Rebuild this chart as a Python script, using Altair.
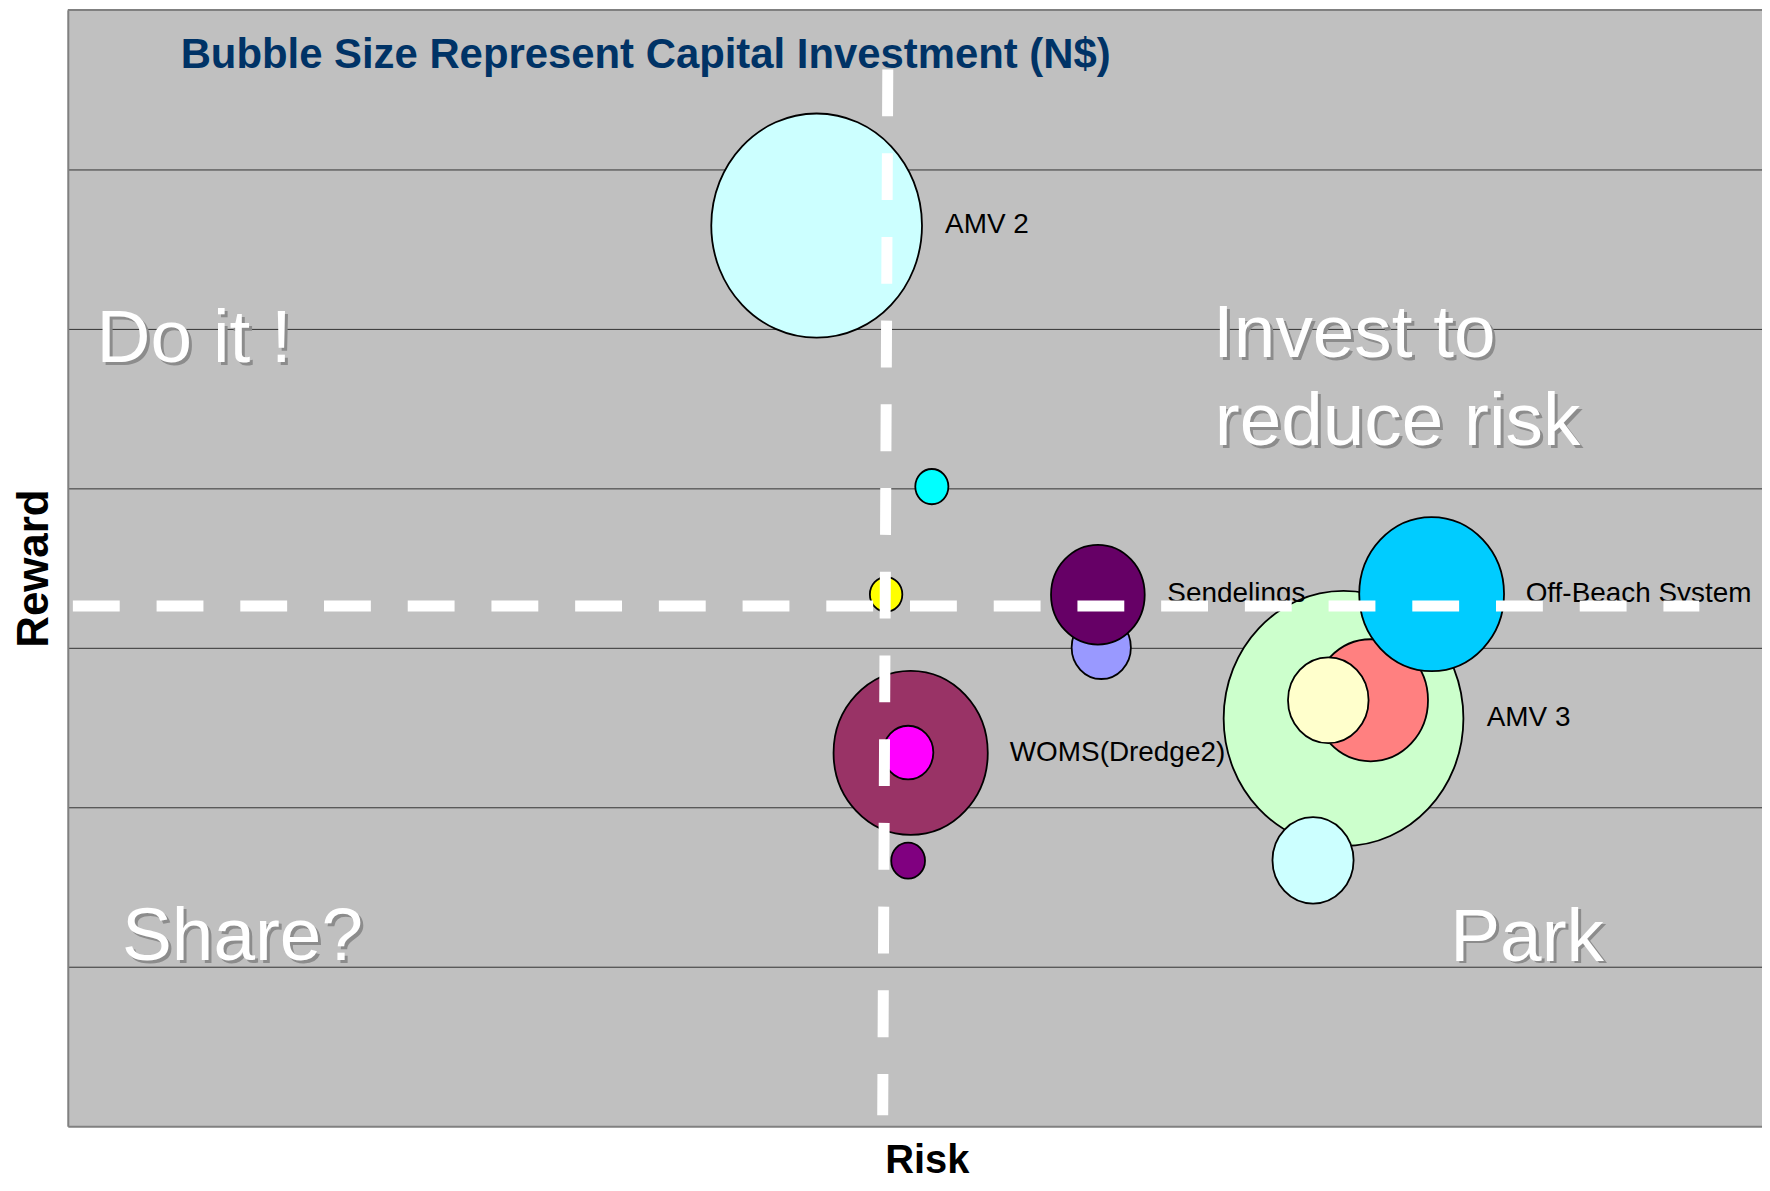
import altair as alt
import pandas as pd

# ---- bubble data (risk / reward / capital investment) ----
bubble_ids = ["AMV 2", "P-cyan", "P-yellow", "P-periwinkle", "Sendelings",
              "WOMS(Dredge2)", "P-magenta", "P-purple", "AMV 3", "P-salmon",
              "P-lightyellow", "P-lightcyan", "Off-Beach System"]
risk = [4.42, 5.10, 4.83, 6.10, 6.08, 4.975, 4.96, 4.96, 7.53, 7.69, 7.44, 7.35, 8.05]
reward = [5.648, 4.011, 3.335, 3.002, 3.333, 2.341, 2.343, 1.665, 2.557, 2.671, 2.671, 1.667, 3.337]
investment = [506, 12.5, 12, 40, 100, 271, 29, 13, 655, 150, 74, 75, 239]
bubble_colors = ["#CCFFFF", "#00FFFF", "#FFFF00", "#9999FF", "#660066", "#993366",
                 "#FF00FF", "#800080", "#CCFFCC", "#FF8080", "#FFFFCC", "#CCFFFF", "#00CCFF"]

# ---- data labels ----
label_text = ["AMV 2", "Sendelings", "Off-Beach System", "AMV 3", "WOMS(Dredge2)"]
label_risk = [5.178, 6.49, 8.605, 8.375, 5.56]
label_reward = [5.650, 3.337, 3.337, 2.559, 2.341]

# ---- quadrant captions ----
quad_text = ["Do it !", "Invest to", "reduce risk", "Share?", "Park"]
quad_risk = [0.17, 6.76, 6.77, 0.32, 8.16]
quad_reward = [4.791, 4.826, 4.270, 1.045, 1.039]

# ---- quadrant divider lines ----
div_risk = [0.03, 4.84]
div_risk2 = [9.63, 4.81]
div_reward = [3.262, 6.627]
div_reward2 = [3.262, 0.068]

title_text = ["Bubble Size Represent Capital Investment (N$)"]
title_risk = [0.666]
title_reward = [6.635]

grid_values = [1, 2, 3, 4, 5, 6]

FONT = "Liberation Sans"

bubbles_df = pd.DataFrame({"id": bubble_ids, "risk": risk, "reward": reward,
                           "investment": investment, "order": list(range(len(bubble_ids)))})
labels_df = pd.DataFrame({"text": label_text, "risk": label_risk, "reward": label_reward})
quad_df = pd.DataFrame({"text": quad_text, "risk": quad_risk, "reward": quad_reward})
div_df = pd.DataFrame({"risk": div_risk, "risk2": div_risk2, "reward": div_reward, "reward2": div_reward2})
title_df = pd.DataFrame({"text": title_text, "risk": title_risk, "reward": title_reward})

xscale = alt.Scale(domain=[0, 10], nice=False, zero=False)
yscale = alt.Scale(domain=[0, 7], nice=False, zero=False)

xaxis = alt.Axis(title="Risk", labels=False, ticks=False, grid=False,
                 domainColor="#808080", domainWidth=2,
                 titleFont=FONT, titleFontSize=40, titleFontWeight="bold", titleColor="black",
                 titlePadding=14, titleX=862)
yaxis = alt.Axis(title="Reward", labels=False, ticks=False, grid=True, values=grid_values,
                 gridColor="#333333", gridWidth=1,
                 domainColor="#808080", domainWidth=2,
                 titleFont=FONT, titleFontSize=44, titleFontWeight="bold", titleColor="black",
                 titlePadding=11)


def X(field="risk"):
    return alt.X(f"{field}:Q", scale=xscale, axis=xaxis)


def Y(field="reward"):
    return alt.Y(f"{field}:Q", scale=yscale, axis=yaxis)


ELLIPSE = "M-0.94,0A0.94,1,0,1,1,0.94,0A0.94,1,0,1,1,-0.94,0Z"

bubbles = alt.Chart(bubbles_df).mark_point(
    shape=ELLIPSE, filled=True, stroke="black", strokeWidth=1.8, opacity=1
).encode(
    x=X(), y=Y(),
    size=alt.Size("investment:Q", scale=alt.Scale(domain=[0, 1000], range=[0, 100000]), legend=None),
    fill=alt.Fill("id:N", scale=alt.Scale(domain=bubble_ids, range=bubble_colors), legend=None),
    order=alt.Order("order:Q"),
)

labels = alt.Chart(labels_df).mark_text(
    align="left", baseline="middle", font=FONT, fontSize=28, color="black"
).encode(x=X(), y=Y(), text="text:N")

dividers = alt.Chart(div_df).mark_rule(
    color="white", strokeWidth=11, strokeDash=[47, 37], strokeCap="butt"
).encode(x=X(), y=Y(), x2="risk2:Q", y2="reward2:Q")

top_border = alt.Chart(title_df).mark_rule(color="#808080", strokeWidth=2).encode(
    y=alt.datum(7, scale=yscale, axis=yaxis)
)

quad_shadow = alt.Chart(quad_df).mark_text(
    align="left", baseline="alphabetic", font=FONT, fontSize=75, color="#8C8C8C", dx=3, dy=3
).encode(x=X(), y=Y(), text="text:N")

quad_label = alt.Chart(quad_df).mark_text(
    align="left", baseline="alphabetic", font=FONT, fontSize=75, color="white"
).encode(x=X(), y=Y(), text="text:N")

title = alt.Chart(title_df).mark_text(
    align="left", baseline="alphabetic", font=FONT, fontSize=42, fontWeight="bold", color="#003366"
).encode(x=X(), y=Y(), text="text:N")

chart = alt.layer(
    bubbles, labels, dividers, top_border, quad_shadow, quad_label, title
).properties(
    width=1700, height=1120,
    autosize=alt.AutoSizeParams(type="none"),
    padding={"left": 60, "top": 0, "right": 0, "bottom": 54},
).configure(
    font=FONT, background="white"
).configure_view(
    fill="#C0C0C0", strokeWidth=0
)

chart.save("out.html", embed_options={"renderer": "svg", "actions": False})
